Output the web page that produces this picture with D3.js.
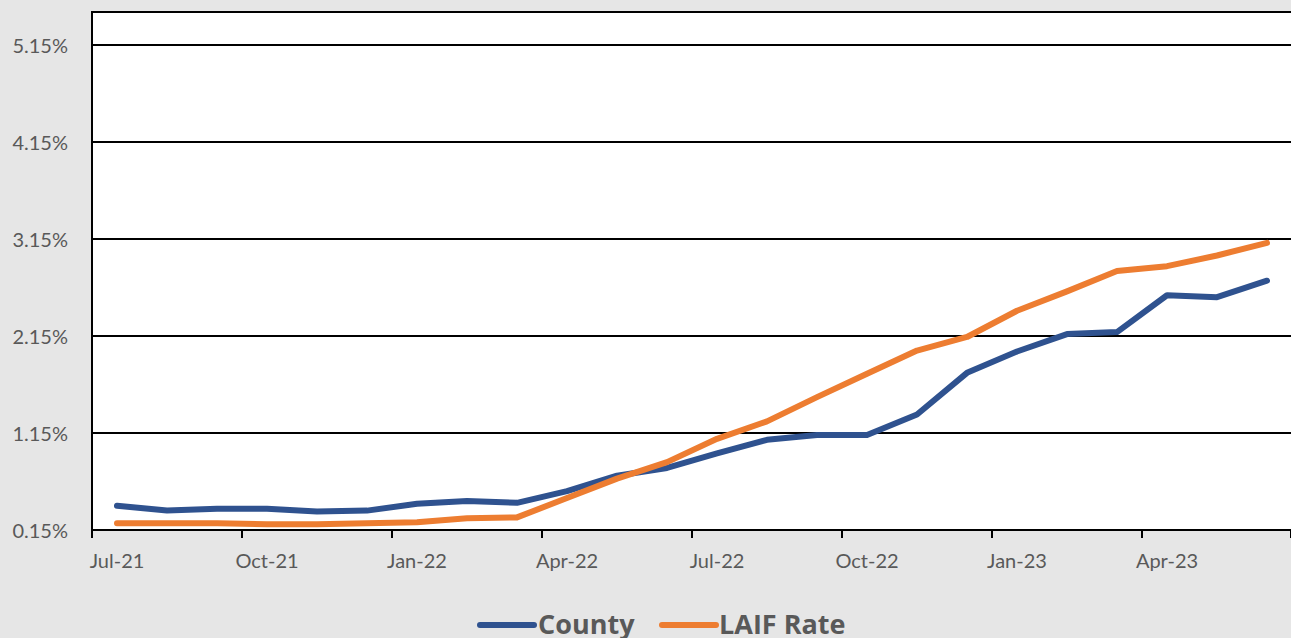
<!DOCTYPE html>
<html>
<head>
<meta charset="utf-8">
<script src="https://cdn.jsdelivr.net/npm/d3@7"></script>
<style>
  html, body { margin: 0; padding: 0; background: #e6e6e6; }
  svg { display: block; }
  text { font-family: "Open Sans", "Liberation Sans", sans-serif; fill: #595959; }
  .tick-label { font-family: Lato, "Open Sans", sans-serif; }
</style>
</head>
<body>
<svg id="chart" width="1291" height="638"></svg>
<script>
// Monthly yields, Jul-21 through Jun-23 (percent)
const months = ["Jul-21","Aug-21","Sep-21","Oct-21","Nov-21","Dec-21",
                "Jan-22","Feb-22","Mar-22","Apr-22","May-22","Jun-22",
                "Jul-22","Aug-22","Sep-22","Oct-22","Nov-22","Dec-22",
                "Jan-23","Feb-23","Mar-23","Apr-23","May-23","Jun-23"];
const county = [0.40, 0.35, 0.37, 0.37, 0.34, 0.35,
                0.42, 0.45, 0.43, 0.55, 0.71, 0.79,
                0.94, 1.08, 1.13, 1.13, 1.34, 1.77,
                1.99, 2.17, 2.19, 2.57, 2.55, 2.72];
const laif   = [0.22, 0.22, 0.22, 0.21, 0.21, 0.22,
                0.23, 0.27, 0.28, 0.48, 0.68, 0.85,
                1.09, 1.27, 1.52, 1.76, 2.00, 2.14,
                2.41, 2.61, 2.82, 2.87, 2.98, 3.11];
const yTicks = [0.15, 1.15, 2.15, 3.15, 4.15, 5.15];
const labelMonths = ["Jul-21","Oct-21","Jan-22","Apr-22","Jul-22","Oct-22","Jan-23","Apr-23"];

const series = [
  { name: "County",    values: county, color: "#2F528F" },
  { name: "LAIF Rate", values: laif,   color: "#ED7D31" }
];

const svg = d3.select("#chart");
const plot = { left: 92, right: 1292, top: 12, bottom: 530 };

const x = d3.scaleBand().domain(months).range([plot.left, plot.right]).padding(0);
const y = d3.scaleLinear().domain([0.15, 0.15 + 518 / 97]).range([plot.bottom, plot.top]);

// plot background
svg.append("rect")
  .attr("x", plot.left).attr("y", plot.top)
  .attr("width", plot.right - plot.left).attr("height", plot.bottom - plot.top)
  .attr("fill", "#ffffff");

// horizontal gridlines and top border
const gridVals = yTicks.slice(1).concat([y.domain()[1]]);
svg.append("g").selectAll("line").data(gridVals).join("line")
  .attr("x1", plot.left).attr("x2", plot.right)
  .attr("y1", d => Math.round(y(d))).attr("y2", d => Math.round(y(d)))
  .attr("stroke", "#000").attr("stroke-width", 2);

// y axis labels
svg.append("g").selectAll("text").data(yTicks).join("text")
  .attr("class", "tick-label")
  .attr("x", 68).attr("y", d => y(d))
  .attr("text-anchor", "end").attr("dominant-baseline", "central")
  .attr("font-size", 20)
  .text(d => d.toFixed(2) + "%");

// left axis line
svg.append("line")
  .attr("x1", plot.left).attr("x2", plot.left)
  .attr("y1", plot.top - 1).attr("y2", plot.bottom + 7)
  .attr("stroke", "#000").attr("stroke-width", 2);

// bottom axis with ticks at every third month boundary
svg.append("line")
  .attr("x1", plot.left).attr("x2", plot.right)
  .attr("y1", plot.bottom).attr("y2", plot.bottom)
  .attr("stroke", "#000").attr("stroke-width", 2);
const tickMonths = months.filter((m, i) => i % 3 === 0);
svg.append("g").selectAll("line").data(tickMonths.concat(["end"])).join("line")
  .attr("x1", d => d === "end" ? plot.right - 1 : x(d))
  .attr("x2", d => d === "end" ? plot.right - 1 : x(d))
  .attr("y1", plot.bottom).attr("y2", plot.bottom + 8)
  .attr("stroke", "#000").attr("stroke-width", 2);

svg.append("g").selectAll("text").data(labelMonths).join("text")
  .attr("class", "tick-label")
  .attr("x", d => x(d) + x.bandwidth() / 2)
  .attr("y", 560)
  .attr("text-anchor", "middle").attr("dominant-baseline", "central")
  .attr("font-size", 20)
  .text(d => d);

// series lines
const line = d3.line()
  .x((d, i) => x(months[i]) + x.bandwidth() / 2)
  .y(d => y(d));

svg.append("g").selectAll("path").data(series).join("path")
  .attr("d", s => line(s.values))
  .attr("fill", "none")
  .attr("stroke", s => s.color)
  .attr("stroke-width", 6)
  .attr("stroke-linecap", "round")
  .attr("stroke-linejoin", "round");

// legend
const legend = [
  { s: series[0], x1: 480, x2: 534, tx: 538 },
  { s: series[1], x1: 662, x2: 716, tx: 719 }
];
const lg = svg.append("g").selectAll("g").data(legend).join("g");
lg.append("line")
  .attr("x1", d => d.x1).attr("x2", d => d.x2)
  .attr("y1", 625).attr("y2", 625)
  .attr("stroke", d => d.s.color).attr("stroke-width", 6)
  .attr("stroke-linecap", "round");
lg.append("text")
  .attr("x", d => d.tx).attr("y", 634)
  .attr("font-size", 27).attr("font-weight", "bold")
  .text(d => d.s.name);
</script>
</body>
</html>
